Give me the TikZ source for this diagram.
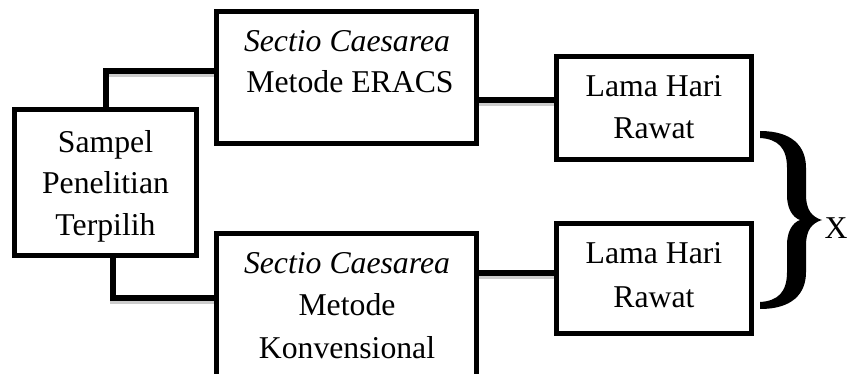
\documentclass[tikz,border=0pt]{standalone}
\usepackage{fontspec}
\setmainfont{Liberation Serif}
\usetikzlibrary{backgrounds}
\begin{document}
\begin{tikzpicture}[x=0.75pt,y=-0.75pt,
  box/.style={draw=black,line width=3.1pt,fill=white,inner sep=0pt,rectangle},
  txt/.style={anchor=base,inner sep=0pt,font=\fontsize{23.8}{29}\selectfont},
  link/.style={draw=black,line width=3.8pt,line cap=rect},
  linkshadow/.style={draw=black!20,line width=4.4pt,line cap=rect,shift={(0.8,2.6)}}]
\useasboundingbox (0,0) rectangle (848,374);

% boxes
\node[box,minimum width=136.5pt,minimum height=109.5pt] (sampel) at (105.5,182.5) {};
\node[box,minimum width=195pt,minimum height=99pt] (eracs) at (346.5,77.5) {};
\node[box,minimum width=195pt,minimum height=107.6pt] (konv) at (346.5,305.25) {};
\node[box,minimum width=146.25pt,minimum height=77.25pt] (lama1) at (654,108) {};
\node[box,minimum width=146.25pt,minimum height=82.5pt] (lama2) at (654,278.5) {};

% connectors behind the boxes, each with a soft grey shadow underneath
\begin{pgfonlayer}{background}
\foreach \s in {linkshadow,link}{
  \path[\s] (sampel.north) ++(0.5,0) |- (eracs.west |- 0,71);
  \path[\s] (sampel.south) ++(7.5,0) |- (konv.west |- 0,298);
  \path[\s] (eracs.east |- 0,100) -- (lama1.west |- 0,100);
  \path[\s] (konv.east |- 0,273) -- (lama2.west |- 0,273);
}
\end{pgfonlayer}

% box texts
\node[txt] (s1) at (105.5,152) {Sampel};
\node[txt] (s2) at (105.5,193) {Penelitian};
\node[txt] (s3) at (105.5,235) {Terpilih};

\node[txt] (e1) at (347,52) {\textit{Sectio Caesarea}};
\node[txt] (e2) at (350,93) {Metode ERACS};

\node[txt] (k1) at (347,273) {\textit{Sectio Caesarea}};
\node[txt] (k2) at (347,315) {Metode};
\node[txt] (k3) at (347,358) {Konvensional};

\node[txt] (l1a) at (654,97) {Lama Hari};
\node[txt] (l1b) at (654,138) {Rawat};
\node[txt] (l2a) at (654,263) {Lama Hari};
\node[txt] (l2b) at (654,307) {Rawat};

% right brace joining both outcomes
\fill[black] (760,131) .. controls (792,131) and (806,146) .. (806,168)
  -- (806,195) .. controls (806,210) and (812,217) .. (822,220)
  .. controls (812,223) and (806,230) .. (806,245)
  -- (806,272) .. controls (806,294) and (792,309) .. (760,309)
  -- (760,302) .. controls (778,301) and (787,292) .. (787,272)
  -- (787,245) .. controls (787,232) and (792,223) .. (800,220)
  .. controls (792,217) and (787,208) .. (787,195)
  -- (787,168) .. controls (787,148) and (778,139) .. (760,138) -- cycle;
\node[txt] (x) at (836,238) {X};
\end{tikzpicture}
\end{document}
